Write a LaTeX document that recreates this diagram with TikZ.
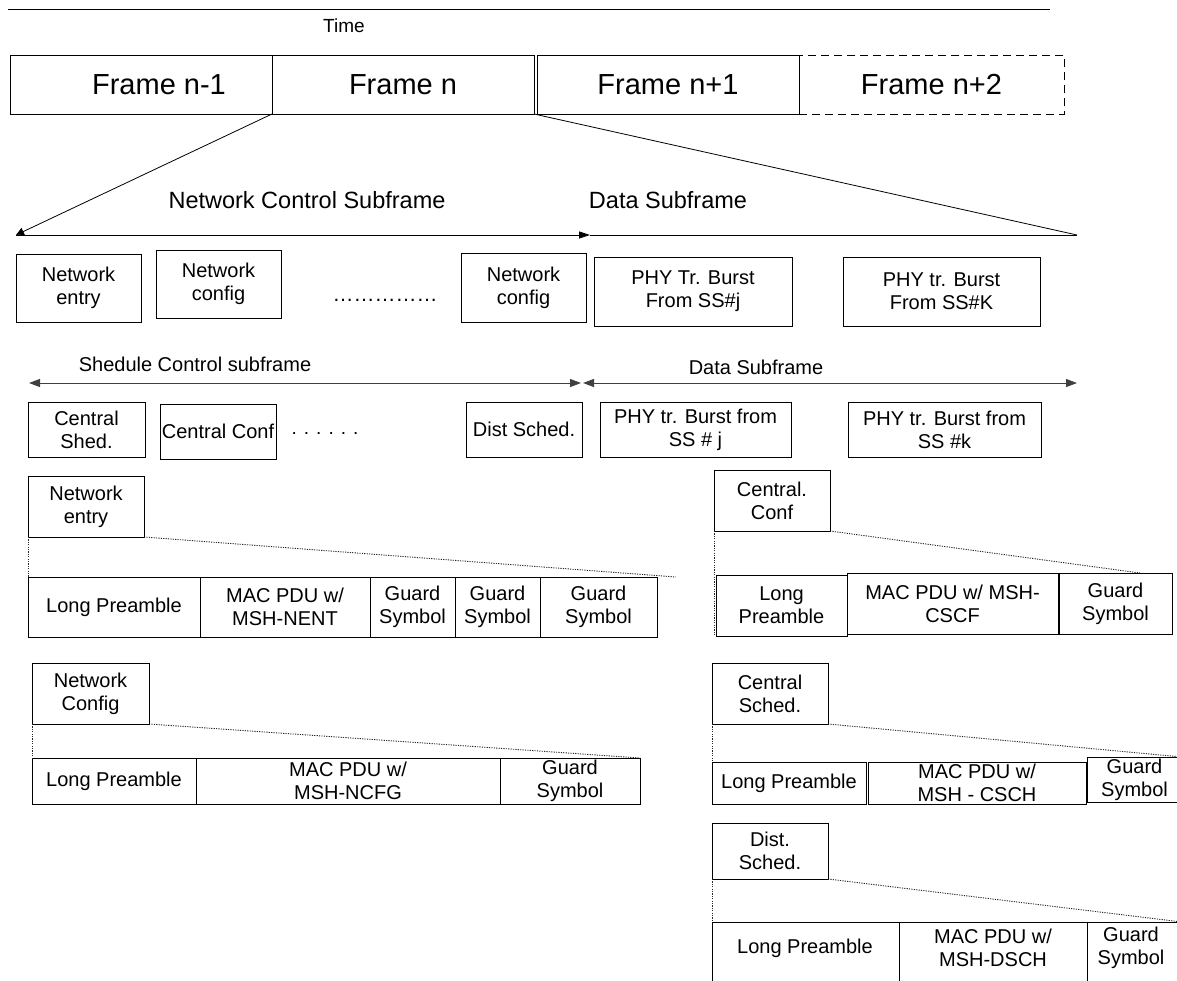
\documentclass[tikz,border=0pt]{standalone}
\usepackage{fontspec}
\setmainfont{Liberation Sans}
\usetikzlibrary{arrows.meta}

\tikzset{
  cell/.style={draw, line width=0.8pt, inner sep=0pt, outer sep=0pt,
    anchor=north west, align=center, font=\fontsize{20}{23}\selectfont},
  framebox/.style={cell, line width=0.9pt, font=\fontsize{29}{32}\selectfont},
  celltext/.style={inner sep=0pt, align=center, font=\fontsize{20}{23}\selectfont},
  bigtext/.style={inner sep=0pt, font=\fontsize{29}{32}\selectfont},
  headtext/.style={inner sep=0pt, font=\fontsize{23.5}{27}\selectfont},
  subtext/.style={inner sep=0pt, font=\fontsize{20}{24}\selectfont},
  thinline/.style={line width=0.8pt},
  zoomline/.style={line width=0.9pt, black!85, dash pattern=on 1.2pt off 1.2pt},
  span/.style={line width=1pt, black!75, {Triangle[length=11pt,width=8pt]}-{Triangle[length=11pt,width=8pt]}},
}

% \seg[style]{name}{x1}{y1}{x2}{y2}{text}: a box between two corners
\newcommand\seg[7][]{%
  \node[cell, minimum width={#5-#3}, minimum height={#6-#4}, #1] (#2) at (#3,#4) {#7};}

\begin{document}
\begin{tikzpicture}[x=1pt, y=-1pt]
\useasboundingbox (0,0) rectangle (1177,980);
\clip (0,0) rectangle (1177,980);

% time axis
\coordinate (t0) at (8,9);
\coordinate (t1) at (1050,9);
\draw[thinline] (t0) -- (t1);
\node[inner sep=0pt, font=\fontsize{19}{22}\selectfont] (time) at (344,26) {Time};

% frames
\seg[framebox]{f1}{10}{55}{272}{114}{}
\node[bigtext] (f1t) at (159,85) {Frame n-1};
\seg[framebox]{f2}{272}{55}{534}{114}{Frame n}
\seg[framebox]{f3}{537}{55}{799}{114}{Frame n+1}
\seg[framebox, dash pattern=on 8pt off 5pt]{f4}{799}{55}{1064}{114}{Frame n+2}

% expansion of frame n
\coordinate (ncL) at (16,235);
\coordinate (hmid) at (590,235);
\coordinate (dsR) at (1077,235);
\draw[thinline, -{Triangle[length=8pt,width=8pt]}] (f2.south west) -- (ncL);
\draw[thinline] (f2.south east) -- (dsR);
\draw[thinline, -{Triangle[length=11pt,width=7pt]}] (ncL) -- (hmid);
\draw[thinline] (hmid) -- (dsR);
\node[headtext] (ncs) at (307,200) {Network Control Subframe};
\node[headtext] (dsub) at (668,200) {Data Subframe};

% network control / data subframe contents
\seg{ne}{16}{254}{141}{322}{Network\\entry}
\seg{nc}{156}{250}{281}{318}{Network\\config}
\node[inner sep=0pt, font=\fontsize{21}{24}\selectfont] (dots1) at (385,300) {……………};
\seg{nc2}{461}{253}{586}{322}{Network\\config}
\seg{pj}{594}{257}{792}{326}{PHY Tr. Burst\\From SS\#j}
\seg{pk}{843}{257}{1040}{326}{PHY tr. Burst\\From SS\#K}

% schedule control / data subframe
\node[subtext] (scs) at (195,364) {Shedule Control subframe};
\node[subtext] (dsub2) at (756,367) {Data Subframe};
\coordinate (a1) at (29,383);
\coordinate (a2) at (581,383);
\coordinate (a3) at (583,383);
\coordinate (a4) at (1077,383);
\draw[span] (a1) -- (a2);
\draw[span] (a3) -- (a4);
\seg{cs}{28}{402}{145}{457}{Central\\Shed.}
\seg{cc}{160}{404}{276}{459}{Central Conf}
\node[inner sep=0pt, font=\fontsize{19}{22}\selectfont] (dots2) at (325,433) {. . . . . .};
\seg{dsd}{466}{402}{582}{457}{Dist Sched.}
\seg{pj2}{600}{402}{791}{457}{PHY tr. Burst from\\SS \# j}
\seg{pk2}{848}{402}{1041}{457}{PHY tr. Burst from\\SS \#k}

% network entry burst
\seg{ne3}{28}{476}{144}{537}{Network\\entry}
\seg{lp1}{28}{577}{200}{637}{Long Preamble}
\seg{mp1}{200}{577}{370}{637}{MAC PDU w/\\MSH-NENT}
\seg{gs1}{370}{577}{455}{637}{Guard\\Symbol}
\seg{gs2}{455}{577}{540}{637}{Guard\\Symbol}
\seg{gs3}{540}{577}{657}{637}{Guard\\Symbol}
\coordinate (z1) at (676,577);
\draw[zoomline] (ne3.south east) -- (z1);
\draw[zoomline] (ne3.south west) -- (lp1.north west);

% network config burst
\seg{ncf}{32}{663}{149}{724}{Network\\Config}
\seg{lp2}{32}{758}{196}{804}{Long Preamble}
\seg{mp2}{196}{758}{500}{804}{MAC PDU w/\\MSH-NCFG}
\seg{gs4}{500}{758}{640}{804}{Guard\\Symbol}
\draw[zoomline] (ncf.south east) -- (gs4.north east);
\draw[zoomline] (ncf.south west) -- (lp2.north west);

% central configuration burst
\seg{ccf}{714}{470}{830}{531}{Central.\\Conf}
\seg{lp3}{716}{575}{847}{636}{Long\\Preamble}
\seg{mp3}{847}{573}{1058}{634}{MAC PDU w/ MSH-\\CSCF}
\seg{gs5}{1059}{573}{1172}{634}{Guard\\Symbol}
\coordinate (z3) at (1140,573);
\coordinate (z3b) at (714,636);
\draw[zoomline] (ccf.south east) -- (z3);
\draw[zoomline] (ccf.south west) -- (z3b);

% central schedule burst
\seg{csc}{712}{663}{828}{724}{Central\\Sched.}
\seg{lp4}{712}{762}{866}{804}{Long Preamble}
\seg{mp4}{868}{762}{1086}{804}{MAC PDU w/\\MSH - CSCH}
\seg{gs6}{1087}{757}{1182}{802}{Guard\\Symbol}
\coordinate (z4) at (1182,757);
\draw[zoomline] (csc.south east) -- (z4);
\draw[zoomline] (csc.south west) -- (lp4.north west);

% distributed schedule burst
\seg{dsc}{712}{823}{828}{879}{Dist.\\Sched.}
\seg{lp5}{712}{922}{899}{990}{}
\seg{mp5}{899}{922}{1087}{990}{}
\seg{gs7}{1087}{922}{1190}{990}{}
\node[celltext] (lp5t) at (805,948) {Long Preamble};
\node[celltext] (mp5t) at (993,948) {MAC PDU w/\\MSH-DSCH};
\node[celltext] (gs7t) at (1131,948) {Guard\\Symbol};
\coordinate (z5) at (1182,922);
\draw[zoomline] (dsc.south east) -- (z5);
\draw[zoomline] (dsc.south west) -- (lp5.north west);
\end{tikzpicture}
\end{document}
